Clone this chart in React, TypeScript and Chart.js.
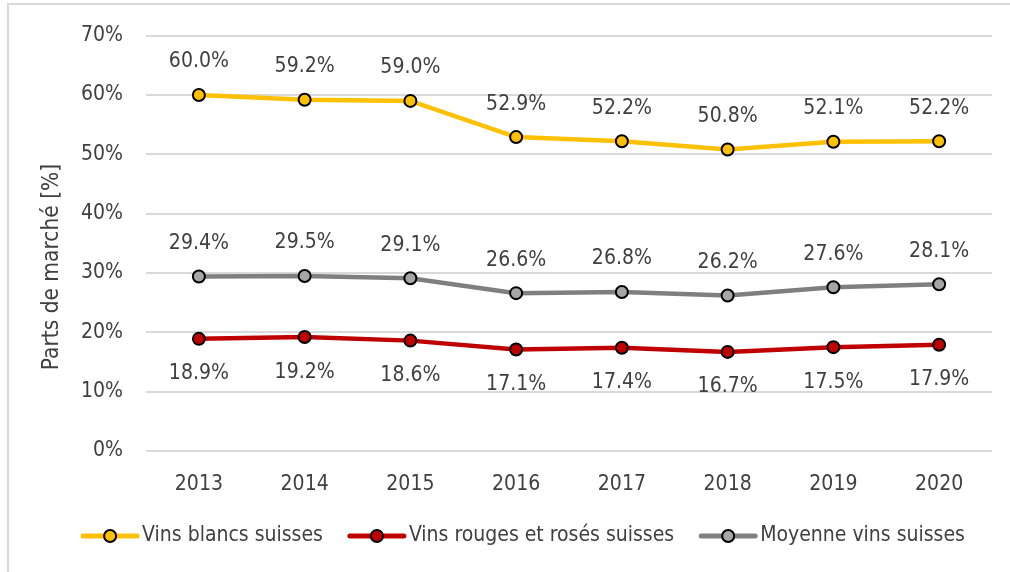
import React, { useEffect, useRef } from "react";
import { Chart, registerables } from "chart.js";

Chart.register(...registerables);

const years = ["2013", "2014", "2015", "2016", "2017", "2018", "2019", "2020"];
const blancs = [60.0, 59.2, 59.0, 52.9, 52.2, 50.8, 52.1, 52.2];
const rouges = [18.9, 19.2, 18.6, 17.1, 17.4, 16.7, 17.5, 17.9];
const moyenne = [29.4, 29.5, 29.1, 26.6, 26.8, 26.2, 27.6, 28.1];
const seriesNames = ["Vins blancs suisses", "Vins rouges et rosés suisses", "Moyenne vins suisses"];
const yTitle = "Parts de marché [%]";

const FONT = "'DejaVu Sans Condensed', 'Liberation Sans Narrow', 'Roboto Condensed', sans-serif";
const TEXT = "#404040";
const FS = 21;

const dataLabelPlugin = {
  id: "dataLabels",
  afterDatasetsDraw(chart: any) {
    const ctx = chart.ctx;
    ctx.save();
    ctx.font = `${FS}px ${FONT}`;
    ctx.fillStyle = TEXT;
    ctx.textAlign = "center";
    ctx.textBaseline = "middle";
    chart.data.datasets.forEach((ds: any, i: number) => {
      const meta = chart.getDatasetMeta(i);
      meta.data.forEach((pt: any, j: number) => {
        const v = ds.data[j] as number;
        const dy = ds.labelPos === "bottom" ? 35 : -33;
        ctx.fillText(v.toFixed(1) + "%", pt.x, pt.y + dy);
      });
    });
    ctx.restore();
  },
};

const yTitlePlugin = {
  id: "yTitle",
  afterDraw(chart: any) {
    const ctx = chart.ctx;
    ctx.save();
    ctx.font = `22.5px ${FONT}`;
    ctx.fillStyle = TEXT;
    ctx.textAlign = "center";
    ctx.textBaseline = "middle";
    ctx.translate(52, 267);
    ctx.rotate(-Math.PI / 2);
    ctx.fillText(yTitle, 0, 0);
    ctx.restore();
  },
};

const legendPlugin = {
  id: "customLegend",
  afterDraw(chart: any) {
    const ctx = chart.ctx;
    ctx.save();
    ctx.font = `${FS}px ${FONT}`;
    const lineLen = 58;
    const gapText = 3;
    const gapItem = 25;
    const items = chart.data.datasets.map((ds: any) => ({
      ds,
      w: lineLen + gapText + ctx.measureText(ds.label).width,
    }));
    const total = items.reduce((s: number, it: any) => s + it.w, 0) + gapItem * (items.length - 1);
    let x = 523 - total / 2;
    const y = 536;
    items.forEach((it: any) => {
      const ds = it.ds;
      ctx.strokeStyle = ds.borderColor;
      ctx.lineWidth = 5;
      ctx.lineCap = "round";
      ctx.beginPath();
      ctx.moveTo(x + 2, y);
      ctx.lineTo(x + lineLen - 2, y);
      ctx.stroke();
      ctx.beginPath();
      ctx.arc(x + lineLen / 2, y, 6, 0, Math.PI * 2);
      ctx.fillStyle = ds.pointBackgroundColor;
      ctx.fill();
      ctx.lineWidth = 2;
      ctx.strokeStyle = "#000000";
      ctx.stroke();
      ctx.fillStyle = TEXT;
      ctx.textAlign = "left";
      ctx.textBaseline = "middle";
      ctx.fillText(ds.label, x + lineLen + gapText, y);
      x += it.w + gapItem;
    });
    ctx.restore();
  },
};

export default function App() {
  const ref = useRef<HTMLCanvasElement | null>(null);
  useEffect(() => {
    if (!ref.current) return;
    const mk = (label: string, data: number[], line: string, fill: string, pos: string) => ({
      label,
      data,
      borderColor: line,
      backgroundColor: fill,
      borderWidth: 4.5,
      pointRadius: 6,
      pointHoverRadius: 6,
      pointBackgroundColor: fill,
      pointBorderColor: "#000000",
      pointBorderWidth: 2,
      tension: 0,
      labelPos: pos,
    });
    const chart = new Chart(ref.current, {
      type: "line",
      data: {
        labels: years,
        datasets: [
          mk(seriesNames[0], blancs, "#FFC000", "#FFC000", "top"),
          mk(seriesNames[1], rouges, "#C00000", "#C00000", "bottom"),
          mk(seriesNames[2], moyenne, "#7F7F7F", "#A6A6A6", "top"),
        ] as any,
      },
      options: {
        responsive: false,
        animation: false,
        layout: { padding: { left: 0, top: 34, right: 18, bottom: 71 } },
        plugins: {
          legend: { display: false },
          tooltip: { enabled: false },
          title: { display: false },
        },
        scales: {
          x: {
            offset: true,
            grid: { display: false, drawTicks: false },
            border: { display: false },
            ticks: {
              color: TEXT,
              font: { family: FONT, size: FS },
              padding: 21,
              maxRotation: 0,
            },
            afterFit(scale: any) {
              scale.height = 50;
            },
          },
          y: {
            min: 0,
            max: 70,
            grid: { color: "#D9D9D9", lineWidth: 2, drawTicks: false },
            border: { display: false },
            ticks: {
              stepSize: 10,
              color: TEXT,
              font: { family: FONT, size: FS },
              padding: 23,
              callback: (v: any) => v + "%",
            },
            afterFit(scale: any) {
              scale.width = 146;
            },
          },
        },
      } as any,
      plugins: [dataLabelPlugin, yTitlePlugin, legendPlugin],
    });
    return () => chart.destroy();
  }, []);

  return (
    <div style={{ position: "fixed", left: 0, top: 0, width: 1010, height: 572, background: "#ffffff", overflow: "hidden" }}>
      <div
        style={{
          position: "absolute",
          left: 7,
          top: 3,
          width: 1100,
          height: 700,
          border: "2px solid #D9D9D9",
          boxSizing: "border-box",
        }}
      />
      <canvas ref={ref} width={1010} height={572} style={{ position: "absolute", left: 0, top: 0 }} />
    </div>
  );
}
